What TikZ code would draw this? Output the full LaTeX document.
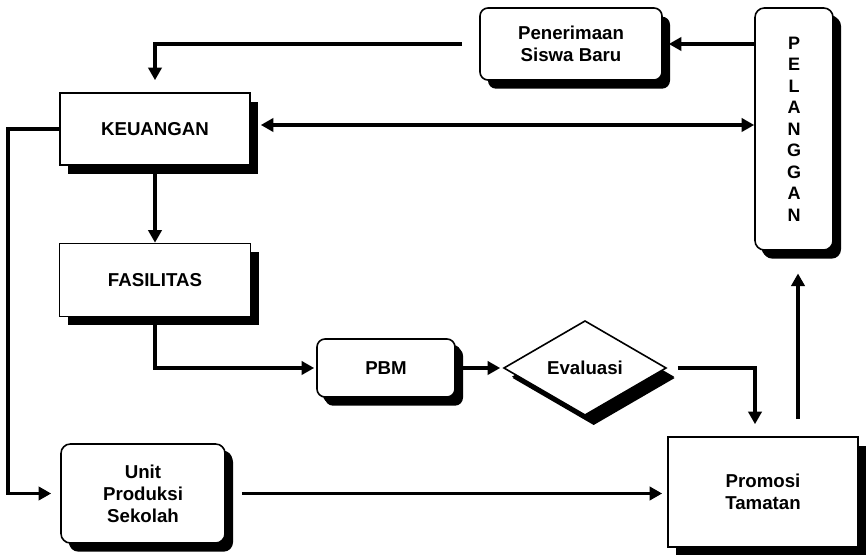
\documentclass[tikz,border=0pt]{standalone}
\usepackage{fontspec}
\setmainfont{Liberation Sans}
\usetikzlibrary{arrows.meta,shapes.geometric,shadows}
\begin{document}
\begin{tikzpicture}[x=0.75pt,y=-0.75pt,
  box/.style={draw, line width=1.2pt, fill=white, inner sep=2pt, align=center,
    font=\fontsize{14}{16.5}\selectfont\bfseries,
    drop shadow={shadow xshift=6pt, shadow yshift=-6.5pt, fill=black, opacity=1}},
  rbox/.style={box, rounded corners=6pt},
  conn/.style={line width=2.7pt, -{Triangle[length=9.5pt,width=10pt]}},
  dconn/.style={line width=3.1pt, {Triangle[length=9.5pt,width=10pt]}-{Triangle[length=9.5pt,width=10pt]}}
]
\useasboundingbox (0,0) rectangle (867,555);
\fill[white] (0,0) rectangle (867,555);

% nodes
\node[box, minimum width=142.5pt, minimum height=54pt] (keu) at (155,129) {KEUANGAN};
\node[box, minimum width=143.25pt, minimum height=54.75pt] (fas) at (155,280) {FASILITAS};
\node[rbox, minimum width=136.5pt, minimum height=54pt] (pen) at (571,44) {Penerimaan\\Siswa Baru};
\node[rbox, rounded corners=7pt, minimum width=58.5pt, minimum height=181.5pt,
      font=\fontsize{13.5}{16.1}\selectfont\bfseries,
      drop shadow={shadow xshift=5pt, shadow yshift=-5.5pt, fill=black, opacity=1}] (pel) at (794,129)
      {P\\E\\L\\A\\N\\G\\G\\A\\N};
\node[rbox, minimum width=103.5pt, minimum height=43.5pt,
      drop shadow={shadow xshift=4.5pt, shadow yshift=-4.5pt, fill=black, opacity=1}] (pbm) at (386,368) {PBM};
\node[box, shape=diamond, aspect=1.7, inner sep=0pt, minimum width=122pt, minimum height=71pt,
      drop shadow={shadow xshift=6.5pt, shadow yshift=-7.5pt, fill=black, opacity=1}] (ev) at (585,368) {Evaluasi};
\node[rbox, rounded corners=7pt, minimum width=123pt, minimum height=74.25pt,
      drop shadow={shadow xshift=5.5pt, shadow yshift=-5pt, fill=black, opacity=1}] (unit) at (143,493.5) {Unit\\Produksi\\Sekolah};
\node[box, minimum width=142.5pt, minimum height=82.5pt] (prom) at (763,492) {Promosi\\Tamatan};

% helper coordinates
\coordinate (k1) at ([yshift=3pt]keu.east);
\coordinate (lft) at (8,0);
\coordinate (ej) at (755,0);
\coordinate (px) at (798,0);

% connectors
\draw[conn, shorten <=12.75pt, shorten >=9pt] (pen.west) -| (keu.north);
\draw[conn, shorten >=4.5pt] (pel.west |- pen.east) -- (pen.east);
\draw[dconn, shorten <=7.5pt] (k1) -- (k1 -| pel.west);
\draw[conn] (keu.south) -- (fas.north);
\draw[conn, shorten >=6.75pt] (keu.west) -- (keu.west -| lft) |- (unit.west);
\draw[conn, shorten >=1.5pt] (fas.south) |- (pbm.west);
\draw[conn, shorten <=4.5pt, shorten >=2pt] (pbm.east) -- (ev.west);
\draw[conn, shorten <=8pt, shorten >=9pt] (ev.east) -| (ej |- prom.north);
\draw[conn, shorten <=12pt, shorten >=3.75pt] (unit.east) -- (unit.east -| prom.west);
\draw[conn, line width=3.1pt, shorten <=12.75pt, shorten >=17pt] (px |- prom.north) -- (px |- pel.south);
\end{tikzpicture}
\end{document}
